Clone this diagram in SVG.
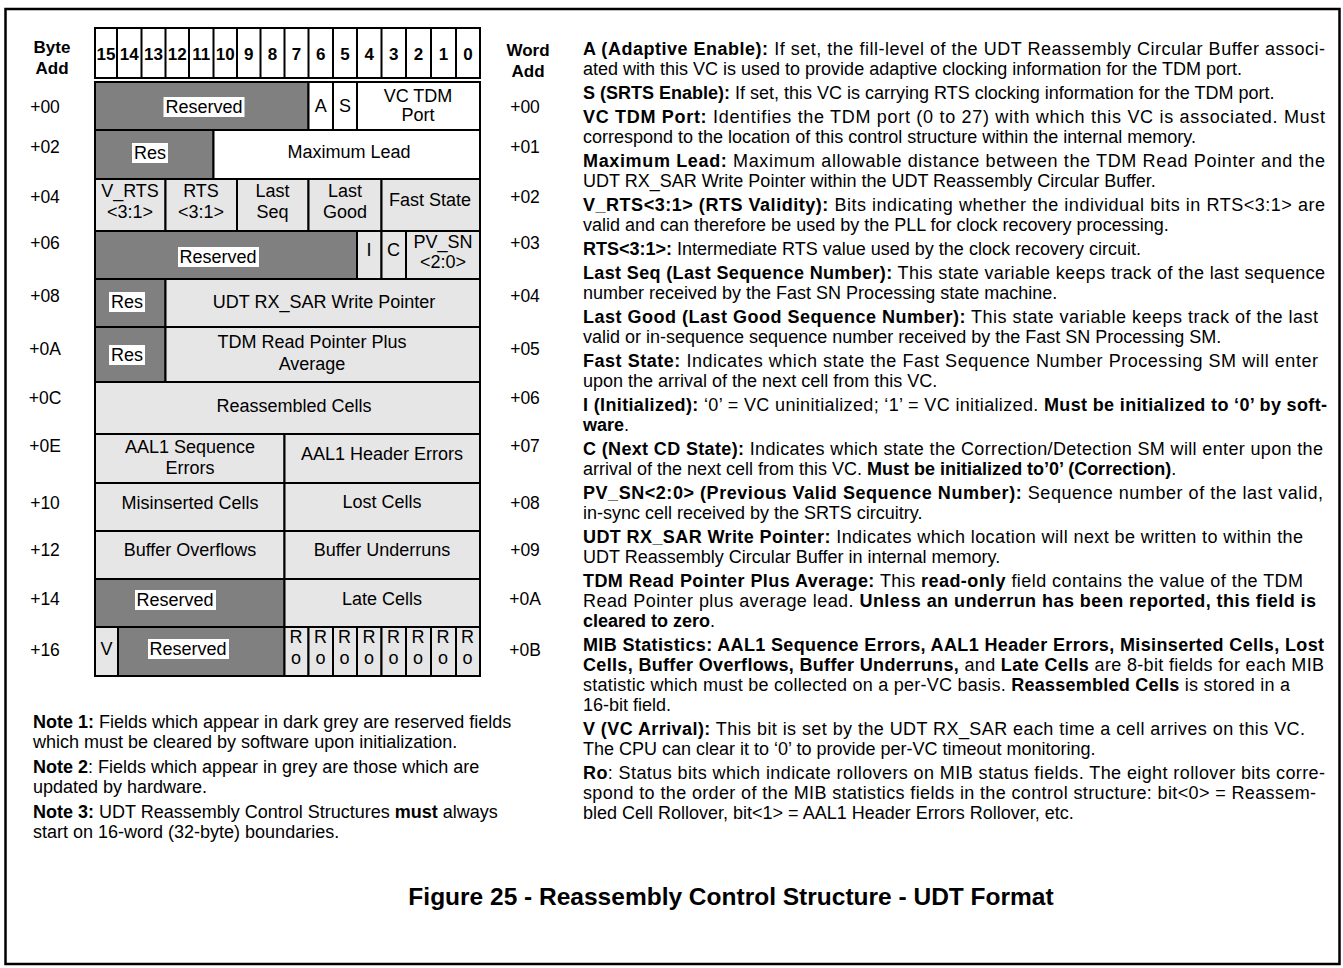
<svg xmlns="http://www.w3.org/2000/svg" width="1343" height="968" viewBox="0 0 1343 968">
<style>
text{font-family:"Liberation Sans",Arial,Helvetica,sans-serif;fill:#000}
.c{font-size:18px;text-anchor:middle;dominant-baseline:central}
.h{font-size:17px;font-weight:bold;text-anchor:middle;dominant-baseline:central}
.lb{font-size:17.5px;text-anchor:middle;dominant-baseline:central}
.p{font-size:18px}
.n{font-size:18px}
.b{font-weight:bold}
.cell{stroke:#000;stroke-width:2}
.dk{fill:#808080}.lt{fill:#e6e6e6}.wh{fill:#fff}
.tag{fill:#fff;stroke:none}
</style>
<rect x="5.5" y="9" width="1334" height="955" fill="#fff" stroke="#000" stroke-width="2.5"/>

<g id="labels">
<text class="h" x="52" y="47">Byte</text><text class="h" x="52" y="68">Add</text>
<text class="h" x="528" y="50">Word</text><text class="h" x="528" y="71">Add</text>
<text class="lb" x="45" y="107">+00</text><text class="lb" x="525" y="107">+00</text>
<text class="lb" x="45" y="147">+02</text><text class="lb" x="525" y="147">+01</text>
<text class="lb" x="45" y="197">+04</text><text class="lb" x="525" y="197">+02</text>
<text class="lb" x="45" y="243">+06</text><text class="lb" x="525" y="243">+03</text>
<text class="lb" x="45" y="296">+08</text><text class="lb" x="525" y="296">+04</text>
<text class="lb" x="45" y="349">+0A</text><text class="lb" x="525" y="349">+05</text>
<text class="lb" x="45" y="398">+0C</text><text class="lb" x="525" y="398">+06</text>
<text class="lb" x="45" y="446">+0E</text><text class="lb" x="525" y="446">+07</text>
<text class="lb" x="45" y="503">+10</text><text class="lb" x="525" y="503">+08</text>
<text class="lb" x="45" y="550">+12</text><text class="lb" x="525" y="550">+09</text>
<text class="lb" x="45" y="599">+14</text><text class="lb" x="525" y="599">+0A</text>
<text class="lb" x="45" y="650">+16</text><text class="lb" x="525" y="650">+0B</text>
</g>

<g id="header">
<rect class="cell wh" x="95" y="28" width="385" height="50"/>
<path d="M117 28V78M141.5 28V78M165.5 28V78M189 28V78M213.5 28V78M237 28V78M260.5 28V78M284.5 28V78M308.5 28V78M333 28V78M357 28V78M381.5 28V78M406 28V78M431 28V78M456 28V78" stroke="#000" stroke-width="2"/>
<text class="h" x="106" y="54">15</text><text class="h" x="129.3" y="54">14</text><text class="h" x="153.5" y="54">13</text>
<text class="h" x="177.3" y="54">12</text><text class="h" x="201.3" y="54">11</text><text class="h" x="225.3" y="54">10</text>
<text class="h" x="248.8" y="54">9</text><text class="h" x="272.5" y="54">8</text><text class="h" x="296.5" y="54">7</text>
<text class="h" x="320.8" y="54">6</text><text class="h" x="345" y="54">5</text><text class="h" x="369.3" y="54">4</text>
<text class="h" x="393.8" y="54">3</text><text class="h" x="418.5" y="54">2</text><text class="h" x="443.5" y="54">1</text>
<text class="h" x="468" y="54">0</text>
</g>

<g id="row00">
<rect class="cell dk" x="95" y="82" width="213.5" height="48"/>
<rect class="tag" x="163.5" y="97" width="81" height="20"/>
<text class="c" x="204" y="107">Reserved</text>
<rect class="cell wh" x="308.5" y="82" width="24.5" height="48"/><text class="c" x="320.8" y="106">A</text>
<rect class="cell wh" x="333" y="82" width="24" height="48"/><text class="c" x="345" y="106">S</text>
<rect class="cell wh" x="357" y="82" width="123" height="48"/>
<text class="c" x="418" y="96">VC TDM</text><text class="c" x="418" y="115">Port</text>
</g>

<g id="row02">
<rect class="cell dk" x="95" y="130" width="118.5" height="49"/>
<rect class="tag" x="132" y="143" width="36" height="20"/>
<text class="c" x="150" y="153">Res</text>
<rect class="cell wh" x="213.5" y="130" width="266.5" height="49"/>
<text class="c" x="349" y="152">Maximum Lead</text>
</g>

<g id="row04">
<rect class="cell lt" x="95" y="179" width="70.5" height="52"/>
<text class="c" x="130" y="191">V_RTS</text><text class="c" x="130" y="212">&lt;3:1&gt;</text>
<rect class="cell lt" x="165.5" y="179" width="71.5" height="52"/>
<text class="c" x="201" y="191">RTS</text><text class="c" x="201" y="212">&lt;3:1&gt;</text>
<rect class="cell lt" x="237" y="179" width="71.5" height="52"/>
<text class="c" x="272.5" y="191">Last</text><text class="c" x="272.5" y="212">Seq</text>
<rect class="cell lt" x="308.5" y="179" width="73" height="52"/>
<text class="c" x="345" y="191">Last</text><text class="c" x="345" y="212">Good</text>
<rect class="cell lt" x="381.5" y="179" width="98.5" height="52"/>
<text class="c" x="430" y="200">Fast State</text>
</g>

<g id="row06">
<rect class="cell dk" x="95" y="231" width="262" height="48"/>
<rect class="tag" x="178" y="247" width="81" height="20"/>
<text class="c" x="218" y="257">Reserved</text>
<rect class="cell lt" x="357" y="231" width="24.5" height="48"/><text class="c" x="369" y="250">I</text>
<rect class="cell lt" x="381.5" y="231" width="24.5" height="48"/><text class="c" x="393.5" y="250">C</text>
<rect class="cell lt" x="406" y="231" width="74" height="48"/>
<text class="c" x="443" y="242">PV_SN</text><text class="c" x="443" y="262">&lt;2:0&gt;</text>
</g>

<g id="row08">
<rect class="cell dk" x="95" y="279" width="70.5" height="48"/>
<rect class="tag" x="109" y="292" width="36" height="20"/>
<text class="c" x="127" y="302">Res</text>
<rect class="cell lt" x="165.5" y="279" width="314.5" height="48"/>
<text class="c" x="324" y="302">UDT RX_SAR Write Pointer</text>
</g>

<g id="row0A">
<rect class="cell dk" x="95" y="327" width="70.5" height="55"/>
<rect class="tag" x="109" y="345" width="36" height="20"/>
<text class="c" x="127" y="355">Res</text>
<rect class="cell lt" x="165.5" y="327" width="314.5" height="55"/>
<text class="c" x="312" y="342">TDM Read Pointer Plus</text><text class="c" x="312" y="364">Average</text>
</g>

<g id="row0C">
<rect class="cell lt" x="95" y="382" width="385" height="52"/>
<text class="c" x="294" y="406">Reassembled Cells</text>
</g>

<g id="row0E">
<rect class="cell lt" x="95" y="434" width="189.5" height="49"/>
<text class="c" x="190" y="447">AAL1 Sequence</text><text class="c" x="190" y="468">Errors</text>
<rect class="cell lt" x="284.5" y="434" width="195.5" height="49"/>
<text class="c" x="382" y="454">AAL1 Header Errors</text>
</g>

<g id="row10">
<rect class="cell lt" x="95" y="483" width="189.5" height="48"/>
<text class="c" x="190" y="503">Misinserted Cells</text>
<rect class="cell lt" x="284.5" y="483" width="195.5" height="48"/>
<text class="c" x="382" y="502">Lost Cells</text>
</g>

<g id="row12">
<rect class="cell lt" x="95" y="531" width="189.5" height="48"/>
<text class="c" x="190" y="550">Buffer Overflows</text>
<rect class="cell lt" x="284.5" y="531" width="195.5" height="48"/>
<text class="c" x="382" y="550">Buffer Underruns</text>
</g>

<g id="row14">
<rect class="cell dk" x="95" y="579" width="189.5" height="48"/>
<rect class="tag" x="135" y="590" width="81" height="20"/>
<text class="c" x="175" y="600">Reserved</text>
<rect class="cell lt" x="284.5" y="579" width="195.5" height="48"/>
<text class="c" x="382" y="599">Late Cells</text>
</g>

<g id="row16">
<rect class="cell lt" x="95" y="627" width="23" height="49"/><text class="c" x="106.5" y="649">V</text>
<rect class="cell dk" x="118" y="627" width="166.5" height="49"/>
<rect class="tag" x="148" y="639" width="81" height="20"/>
<text class="c" x="188" y="649">Reserved</text>
<rect class="cell lt" x="284.5" y="627" width="24" height="49"/>
<rect class="cell lt" x="308.5" y="627" width="24.5" height="49"/>
<rect class="cell lt" x="333" y="627" width="24" height="49"/>
<rect class="cell lt" x="357" y="627" width="24.5" height="49"/>
<rect class="cell lt" x="381.5" y="627" width="24.5" height="49"/>
<rect class="cell lt" x="406" y="627" width="25" height="49"/>
<rect class="cell lt" x="431" y="627" width="25" height="49"/>
<rect class="cell lt" x="456" y="627" width="24" height="49"/>
<text class="c" x="296" y="637">R</text><text class="c" x="296" y="658">o</text>
<text class="c" x="320.5" y="637">R</text><text class="c" x="320.5" y="658">o</text>
<text class="c" x="344.5" y="637">R</text><text class="c" x="344.5" y="658">o</text>
<text class="c" x="369" y="637">R</text><text class="c" x="369" y="658">o</text>
<text class="c" x="393.5" y="637">R</text><text class="c" x="393.5" y="658">o</text>
<text class="c" x="418" y="637">R</text><text class="c" x="418" y="658">o</text>
<text class="c" x="443" y="637">R</text><text class="c" x="443" y="658">o</text>
<text class="c" x="467.5" y="637">R</text><text class="c" x="467.5" y="658">o</text>
</g>

<g id="notes">
<text class="n" x="33" y="728"><tspan class="b">Note 1:</tspan> Fields which appear in dark grey are reserved fields</text>
<text class="n" x="33" y="748">which must be cleared by software upon initialization.</text>
<text class="n" x="33" y="773"><tspan class="b">Note 2</tspan>: Fields which appear in grey are those which are</text>
<text class="n" x="33" y="793">updated by hardware.</text>
<text class="n" x="33" y="818"><tspan class="b">Note 3:</tspan> UDT Reassembly Control Structures <tspan class="b">must</tspan> always</text>
<text class="n" x="33" y="838">start on 16-word (32-byte) boundaries.</text>
</g>

<g id="descriptions">
<text class="p" x="583" y="55" textLength="742" lengthAdjust="spacing"><tspan class="b">A (Adaptive Enable):</tspan> If set, the fill-level of the UDT Reassembly Circular Buffer associ-</text>
<text class="p" x="583" y="75">ated with this VC is used to provide adaptive clocking information for the TDM port.</text>
<text class="p" x="583" y="99"><tspan class="b">S (SRTS Enable):</tspan> If set, this VC is carrying RTS clocking information for the TDM port.</text>
<text class="p" x="583" y="123" textLength="742" lengthAdjust="spacing"><tspan class="b">VC TDM Port:</tspan> Identifies the TDM port (0 to 27) with which this VC is associated. Must</text>
<text class="p" x="583" y="143">correspond to the location of this control structure within the internal memory.</text>
<text class="p" x="583" y="167" textLength="742" lengthAdjust="spacing"><tspan class="b">Maximum Lead:</tspan> Maximum allowable distance between the TDM Read Pointer and the</text>
<text class="p" x="583" y="187">UDT RX_SAR Write Pointer within the UDT Reassembly Circular Buffer.</text>
<text class="p" x="583" y="211" textLength="742" lengthAdjust="spacing"><tspan class="b">V_RTS&lt;3:1&gt; (RTS Validity):</tspan> Bits indicating whether the individual bits in RTS&lt;3:1&gt; are</text>
<text class="p" x="583" y="231">valid and can therefore be used by the PLL for clock recovery processing.</text>
<text class="p" x="583" y="255"><tspan class="b">RTS&lt;3:1&gt;:</tspan> Intermediate RTS value used by the clock recovery circuit.</text>
<text class="p" x="583" y="279" textLength="742" lengthAdjust="spacing"><tspan class="b">Last Seq (Last Sequence Number):</tspan> This state variable keeps track of the last sequence</text>
<text class="p" x="583" y="299">number received by the Fast SN Processing state machine.</text>
<text class="p" x="583" y="323" textLength="735" lengthAdjust="spacing"><tspan class="b">Last Good (Last Good Sequence Number):</tspan> This state variable keeps track of the last</text>
<text class="p" x="583" y="343">valid or in-sequence sequence number received by the Fast SN Processing SM.</text>
<text class="p" x="583" y="367" textLength="735" lengthAdjust="spacing"><tspan class="b">Fast State:</tspan> Indicates which state the Fast Sequence Number Processing SM will enter</text>
<text class="p" x="583" y="387">upon the arrival of the next cell from this VC.</text>
<text class="p" x="583" y="411" textLength="744" lengthAdjust="spacing"><tspan class="b">I (Initialized):</tspan> ‘0’ = VC uninitialized; ‘1’ = VC initialized. <tspan class="b">Must be initialized to ‘0’ by soft-</tspan></text>
<text class="p" x="583" y="431"><tspan class="b">ware</tspan>.</text>
<text class="p" x="583" y="455" textLength="740" lengthAdjust="spacing"><tspan class="b">C (Next CD State):</tspan> Indicates which state the Correction/Detection SM will enter upon the</text>
<text class="p" x="583" y="475">arrival of the next cell from this VC. <tspan class="b">Must be initialized to’0’ (Correction)</tspan>.</text>
<text class="p" x="583" y="499" textLength="740" lengthAdjust="spacing"><tspan class="b">PV_SN&lt;2:0&gt; (Previous Valid Sequence Number):</tspan> Sequence number of the last valid,</text>
<text class="p" x="583" y="519">in-sync cell received by the SRTS circuitry.</text>
<text class="p" x="583" y="543" textLength="720" lengthAdjust="spacing"><tspan class="b">UDT RX_SAR Write Pointer:</tspan> Indicates which location will next be written to within the</text>
<text class="p" x="583" y="563">UDT Reassembly Circular Buffer in internal memory.</text>
<text class="p" x="583" y="587" textLength="720" lengthAdjust="spacing"><tspan class="b">TDM Read Pointer Plus Average:</tspan> This <tspan class="b">read-only</tspan> field contains the value of the TDM</text>
<text class="p" x="583" y="607" textLength="733" lengthAdjust="spacing">Read Pointer plus average lead. <tspan class="b">Unless an underrun has been reported, this field is</tspan></text>
<text class="p" x="583" y="627"><tspan class="b">cleared to zero</tspan>.</text>
<text class="p b" x="583" y="651" textLength="741" lengthAdjust="spacing">MIB Statistics: AAL1 Sequence Errors, AAL1 Header Errors, Misinserted Cells, Lost</text>
<text class="p" x="583" y="671" textLength="741" lengthAdjust="spacing"><tspan class="b">Cells, Buffer Overflows, Buffer Underruns,</tspan> and <tspan class="b">Late Cells</tspan> are 8-bit fields for each MIB</text>
<text class="p" x="583" y="691" textLength="707" lengthAdjust="spacing">statistic which must be collected on a per-VC basis. <tspan class="b">Reassembled Cells</tspan> is stored in a</text>
<text class="p" x="583" y="711">16-bit field.</text>
<text class="p" x="583" y="735" textLength="722" lengthAdjust="spacing"><tspan class="b">V (VC Arrival):</tspan> This bit is set by the UDT RX_SAR each time a cell arrives on this VC.</text>
<text class="p" x="583" y="755">The CPU can clear it to ‘0’ to provide per-VC timeout monitoring.</text>
<text class="p" x="583" y="779" textLength="742" lengthAdjust="spacing"><tspan class="b">Ro</tspan>: Status bits which indicate rollovers on MIB status fields. The eight rollover bits corre-</text>
<text class="p" x="583" y="799" textLength="733" lengthAdjust="spacing">spond to the order of the MIB statistics fields in the control structure: bit&lt;0&gt; = Reassem-</text>
<text class="p" x="583" y="819">bled Cell Rollover, bit&lt;1&gt; = AAL1 Header Errors Rollover, etc.</text>
</g>

<g id="title">
<text x="731" y="905" style="font-size:24.5px;font-weight:bold;text-anchor:middle">Figure 25 - Reassembly Control Structure - UDT Format</text>
</g>
</svg>
